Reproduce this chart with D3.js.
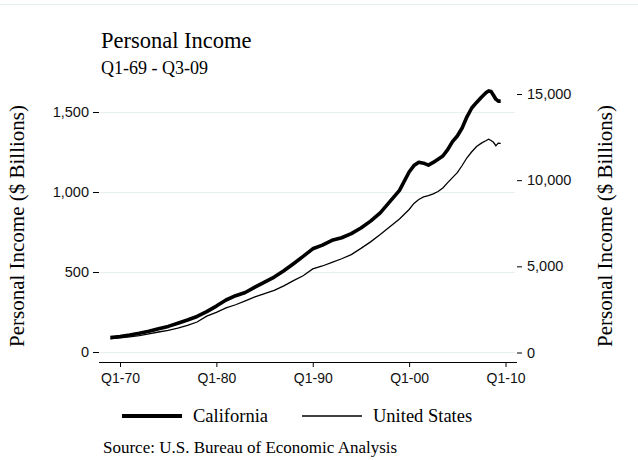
<!DOCTYPE html>
<html>
<head>
<meta charset="utf-8">
<script src="https://cdn.jsdelivr.net/npm/d3@7"></script>
<style>
  body { margin: 0; background: #fff; }
  svg { font-family: "Liberation Serif", "DejaVu Serif", serif; }
  .tick text { font-size: 14.5px; fill: #111; }
</style>
</head>
<body>
<div class="svg-frame" style="width:638px;height:460px"></div>
<script>
// quarters shown on the chart (annual up to 1999, denser afterwards)
const periods = ["Q1-69","Q1-70","Q1-71","Q1-72","Q1-73","Q1-74","Q1-75","Q1-76","Q1-77","Q1-78",
  "Q1-79","Q1-80","Q1-81","Q1-82","Q1-83","Q1-84","Q1-85","Q1-86","Q1-87","Q1-88",
  "Q1-89","Q1-90","Q1-91","Q1-92","Q1-93","Q1-94","Q1-95","Q1-96","Q1-97","Q1-98","Q1-99",
  "Q1-00","Q3-00","Q1-01","Q3-01","Q1-02","Q3-02","Q1-03","Q3-03","Q1-04","Q3-04",
  "Q1-05","Q3-05","Q1-06","Q3-06","Q1-07","Q3-07","Q1-08","Q2-08","Q3-08","Q4-08",
  "Q1-09","Q2-09","Q3-09"]

// $ billions, left axis
const california = [90,97,106,117,130,146,160,180,200,222,
  252,287,325,352,372,405,437,468,508,552,
  598,645,668,698,714,740,775,818,870,940,1010,
  1125,1165,1186,1180,1168,1185,1205,1225,1265,1315,
  1350,1400,1470,1525,1560,1592,1622,1632,1628,1605,
  1580,1568,1568]

// $ billions, right axis
const unitedStates = [800,850,905,985,1085,1190,1285,1420,1570,1770,
  2110,2330,2590,2770,3000,3230,3420,3600,3870,4170,
  4450,4850,5020,5230,5440,5680,6040,6420,6850,7300,7750,
  8300,8650,8880,9030,9100,9200,9340,9550,9860,10150,
  10440,10850,11300,11650,11950,12150,12300,12380,12300,12200,
  12000,12150,12130]

const xTickLabels = ["Q1-70","Q1-80","Q1-90","Q1-00","Q1-10"]
const leftTicks = [0, 500, 1000, 1500]
const rightTicks = [0, 5000, 10000, 15000]

function toYear(p) {
  const q = +p[1]
  const yy = +p.slice(3)
  return (yy < 50 ? 2000 + yy : 1900 + yy) + (q - 1) / 4
}

function drawViz() {
  const svg = d3.select(".svg-frame")
    .append("svg")
    .attr("width", 638)
    .attr("height", 460)

  // faint rule at the very top
  svg.append("line")
    .attr("x1", 0).attr("x2", 638)
    .attr("y1", 4.5).attr("y2", 4.5)
    .attr("stroke", "#e6eded")

  const xScale = d3.scaleLinear([1970, 2010], [120, 505.5])
  const yLeft = d3.scaleLinear([0, 1500], [352, 112])
  const yRight = d3.scaleLinear([0, 15000], [352.5, 94])

  const fmt = d3.format(",")

  // gridlines
  svg.append("g")
    .selectAll("line")
    .data(leftTicks)
    .join("line")
      .attr("x1", 100).attr("x2", 515)
      .attr("y1", d => yLeft(d) + 0.5).attr("y2", d => yLeft(d) + 0.5)
      .attr("stroke", "#e8efef")

  // left axis
  const leftAxis = svg.append("g")
    .attr("transform", "translate(99,0)")
    .call(d3.axisLeft(yLeft).tickValues(leftTicks).tickFormat(fmt).tickSize(6).tickPadding(4))
  leftAxis.select(".domain").remove()

  // right axis
  const rightAxis = svg.append("g")
    .attr("transform", "translate(517,0)")
    .call(d3.axisRight(yRight).tickValues(rightTicks).tickFormat(fmt).tickSize(5).tickPadding(5))
  rightAxis.select(".domain").remove()

  // bottom axis
  const xAxis = svg.append("g")
    .attr("transform", "translate(0,362)")
    .call(d3.axisBottom(xScale).tickValues([1970, 1980, 1990, 2000, 2010])
      .tickFormat((d, i) => xTickLabels[i]).tickSize(5).tickPadding(6))
  xAxis.select(".domain").remove()
  xAxis.selectAll(".tick text").style("font-size", "14px")
  svg.append("line")
    .attr("x1", 99).attr("x2", 517)
    .attr("y1", 362.5).attr("y2", 362.5)
    .attr("stroke", "#000")

  // lines
  const years = periods.map(toYear)
  const caLine = d3.line()
    .x((d, i) => xScale(years[i]))
    .y(d => yLeft(d))
  const usLine = d3.line()
    .x((d, i) => xScale(years[i]))
    .y(d => yRight(d))

  svg.append("path")
    .datum(unitedStates)
    .attr("d", usLine)
    .attr("fill", "none")
    .attr("stroke", "#000")
    .attr("stroke-width", 1.3)

  svg.append("path")
    .datum(california)
    .attr("d", caLine)
    .attr("fill", "none")
    .attr("stroke", "#000")
    .attr("stroke-width", 3.6)
    .attr("stroke-linejoin", "round")

  // titles
  svg.append("text")
    .attr("x", 101).attr("y", 48)
    .style("font-size", "22.5px")
    .text("Personal Income")
  svg.append("text")
    .attr("x", 101).attr("y", 74)
    .style("font-size", "18px")
    .text("Q1-69 - Q3-09")

  svg.append("text")
    .attr("transform", "translate(24,226) rotate(-90)")
    .attr("text-anchor", "middle")
    .style("font-size", "21px")
    .text("Personal Income ($ Billions)")
  svg.append("text")
    .attr("transform", "translate(612,226) rotate(-90)")
    .attr("text-anchor", "middle")
    .style("font-size", "21px")
    .text("Personal Income ($ Billions)")

  // legend
  const legend = [
    { name: "California", width: 4, x: 122 },
    { name: "United States", width: 1.4, x: 302 }
  ]
  const lg = svg.append("g")
    .selectAll("g")
    .data(legend)
    .join("g")
      .attr("transform", d => `translate(${d.x},416)`)
  lg.append("line")
    .attr("x1", 0).attr("x2", 60)
    .attr("stroke", "#000")
    .attr("stroke-width", d => d.width)
  lg.append("text")
    .attr("x", 71).attr("y", 6)
    .style("font-size", "18.5px")
    .text(d => d.name)

  svg.append("text")
    .attr("x", 103).attr("y", 453)
    .style("font-size", "17px")
    .text("Source: U.S. Bureau of Economic Analysis")
}

drawViz()
</script>
</body>
</html>
